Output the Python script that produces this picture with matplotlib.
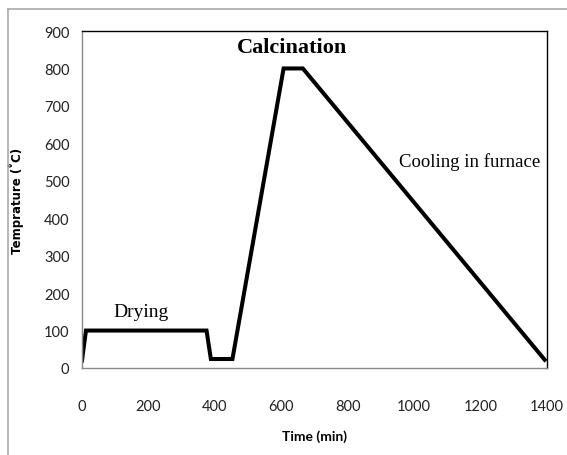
import matplotlib.pyplot as plt
from matplotlib.lines import Line2D

# Heating profile
tiempo = [0, 12, 375, 388, 453, 607, 665, 1393]
temperatura = [20, 100, 100, 24, 24, 800, 800, 22]

x_ticks = [0, 200, 400, 600, 800, 1000, 1200, 1400]
y_ticks = [0, 100, 200, 300, 400, 500, 600, 700, 800, 900]

etiquetas = ['Drying', 'Calcination', 'Cooling in furnace']
etiq_x = [178, 632, 1166]
etiq_y = [152, 856, 553]

fig = plt.figure(figsize=(5.67, 4.56), dpi=100)
ax = fig.add_axes([0.1446, 0.1908, 0.8201, 0.739])

ax.plot(tiempo, temperatura, color='black', lw=2.9, solid_joinstyle='miter')
ax.set_xlim(0, 1400)
ax.set_ylim(0, 900)
ax.set_xticks(x_ticks)
ax.set_yticks(y_ticks)
ax.tick_params(length=0, labelsize=10.5, colors='#222222')
ax.tick_params(axis='x', pad=22)
ax.tick_params(axis='y', pad=9)
for lbl in ax.get_xticklabels() + ax.get_yticklabels():
    lbl.set_family('Lato')

for s in ax.spines.values():
    s.set_color('black')
    s.set_linewidth(1.0)
ax.spines['bottom'].set_color('#888888')
ax.spines['left'].set_color('#888888')

ax.set_xlabel('Time (min)', fontsize=10, fontweight='bold', family='Lato', labelpad=12)
ax.set_ylabel('Temprature (˚C)', fontsize=8.5, fontweight='bold', family='DejaVu Sans', labelpad=14)

ax.text(etiq_x[0], etiq_y[0], etiquetas[0], family='Liberation Serif', fontsize=14,
        ha='center', va='center')
ax.text(etiq_x[1], etiq_y[1], etiquetas[1], family='Liberation Serif', fontsize=16,
        fontweight='bold', ha='center', va='center')
ax.text(etiq_x[2], etiq_y[2], etiquetas[2], family='Liberation Serif', fontsize=13.5,
        ha='center', va='center')

# outer chart border (only top and left visible in the original)
fig.add_artist(Line2D([8 / 567, 1], [1 - 10 / 456, 1 - 10 / 456], transform=fig.transFigure,
                      color='#aaaaaa', lw=1.2))
fig.add_artist(Line2D([8 / 567, 8 / 567], [0, 1 - 10 / 456], transform=fig.transFigure,
                      color='#aaaaaa', lw=1.2))

fig.savefig('out.png', dpi=100)
